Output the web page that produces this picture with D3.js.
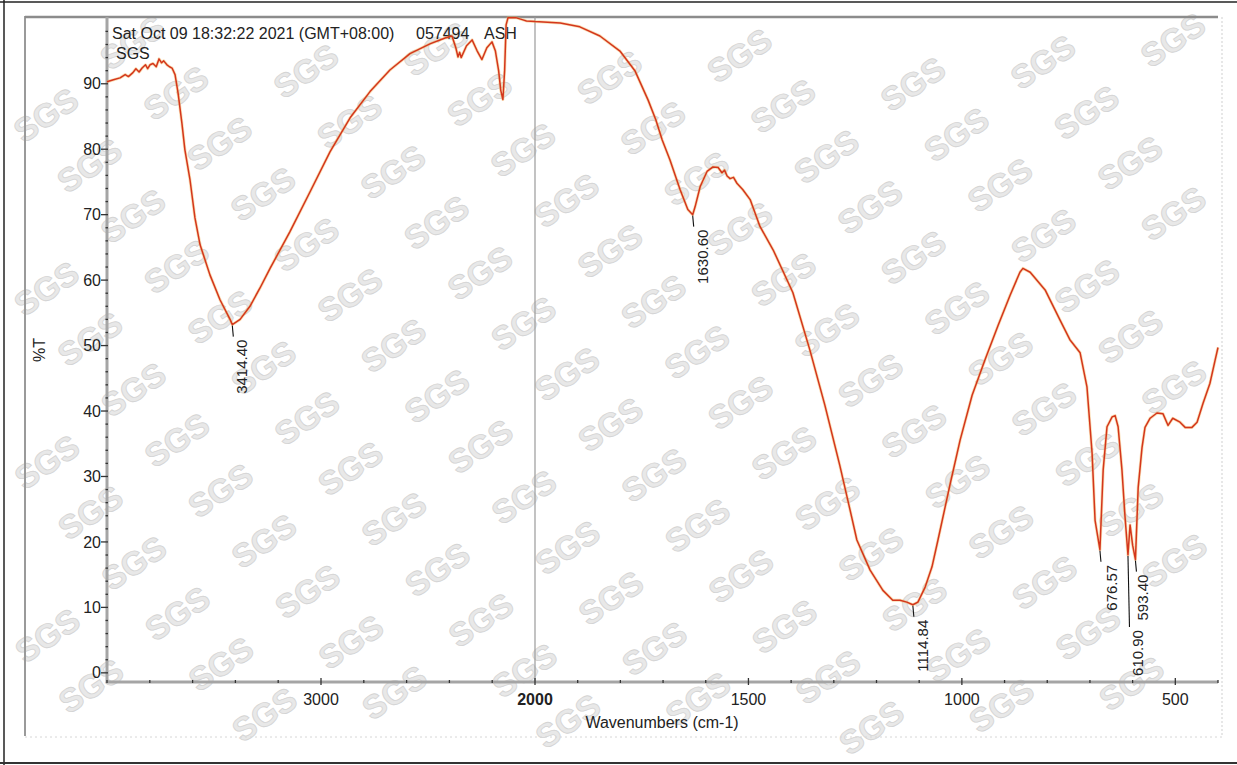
<!DOCTYPE html>
<html>
<head>
<meta charset="utf-8">
<script src="https://cdn.jsdelivr.net/npm/d3@7"></script>
<style>
  html, body { margin: 0; padding: 0; background: #ffffff; }
  svg { display: block; font-family: "Liberation Sans", Arial, sans-serif; }
</style>
</head>
<body>
<svg id="chart" width="1237" height="765"></svg>
<script>
// ---------------- data ----------------
const wavenumbers = [4000, 3970, 3939, 3915, 3900, 3879, 3865, 3850, 3836, 3820, 3810, 3799, 3785, 3770, 3757, 3745, 3735, 3720, 3708, 3696, 3682, 3668, 3650, 3636, 3612, 3589, 3565, 3519, 3472, 3425, 3414.4, 3378, 3332, 3285, 3238, 3145, 3051, 2958, 2864, 2771, 2678, 2584, 2491, 2420, 2388, 2370, 2360, 2352, 2345, 2320, 2294, 2270, 2248, 2225, 2201, 2185, 2170, 2160, 2150, 2142, 2135, 2126, 2090, 2060, 2040, 2000, 1941, 1895, 1848, 1801, 1766, 1735, 1717, 1702, 1684, 1660, 1642, 1630.6, 1625, 1613, 1597, 1583, 1571, 1562, 1556, 1550, 1543, 1535, 1527, 1513, 1496, 1473, 1442, 1396, 1356, 1321, 1286, 1262, 1246, 1215, 1185, 1162, 1145, 1129, 1114.84, 1103, 1086, 1070, 1056, 1028, 1004, 976, 946, 915, 887, 864, 857, 840, 805, 770, 747, 723, 707, 695, 688, 676.57, 669, 660, 648, 641, 634, 625, 618, 610.9, 606, 600, 593.4, 587, 578, 571, 559, 543, 529, 517, 506, 489, 477, 461, 449, 435, 419, 407, 400];
const transmittance = [90.3, 90.6, 90.9, 91.4, 91.1, 91.7, 92.3, 91.8, 92.4, 92.9, 92.3, 92.9, 93.1, 92.6, 93.8, 93.2, 93.5, 92.9, 92.6, 92.4, 91.4, 88.6, 84.0, 79.9, 75.3, 69.5, 65.4, 60.8, 57.0, 54.0, 53.2, 54.0, 56.0, 58.8, 61.8, 67.4, 73.5, 79.6, 84.8, 88.8, 92.1, 94.6, 96.1, 97.0, 97.3, 95.5, 94.1, 94.8, 94.0, 95.8, 96.7, 95.0, 93.7, 95.5, 96.4, 95.0, 92.0, 89.0, 87.6, 92.0, 99.0, 100.1, 100.1, 99.8, 99.6, 99.5, 99.3, 98.7, 97.3, 95.0, 92.0, 87.5, 84.5, 81.4, 78.4, 73.8, 70.8, 70.0, 71.2, 74.3, 76.6, 77.3, 77.2, 76.4, 76.8, 75.9, 75.5, 75.7, 74.8, 73.8, 72.3, 68.2, 64.6, 58.1, 49.3, 40.9, 31.7, 24.9, 20.3, 15.7, 12.6, 11.1, 11.1, 10.8, 10.4, 10.8, 13.1, 16.2, 20.3, 28.7, 35.6, 42.4, 47.8, 53.1, 57.7, 61.2, 61.8, 61.2, 58.5, 53.9, 50.9, 48.9, 43.7, 33.6, 23.3, 18.8, 31.0, 37.6, 39.1, 39.3, 37.6, 31.0, 24.0, 18.0, 22.6, 19.5, 17.3, 28.3, 34.4, 37.5, 38.9, 39.7, 39.6, 37.8, 38.9, 38.3, 37.5, 37.5, 38.3, 41.2, 44.2, 47.7, 49.7];

const peakWavenumbers = [3414.40, 1630.60, 1114.84, 676.57, 610.90, 593.40];
const peakLabels = ["3414.40", "1630.60", "1114.84", "676.57", "610.90", "593.40"];
const peakValues = [53.2, 70.0, 10.4, 18.8, 18.0, 17.3];

const xTickLabels = [3000, 2000, 1500, 1000, 500];
const yTickLabels = [0, 10, 20, 30, 40, 50, 60, 70, 80, 90];
const headerTexts = ["Sat Oct 09 18:32:22 2021 (GMT+08:00)", "057494", "ASH"];
const subHeader = "SGS";
const xTitle = "Wavenumbers (cm-1)";
const yTitle = "%T";
const watermarkText = "SGS";

// ---------------- layout ----------------
const svg = d3.select("#chart");
const plot = { left: 107, right: 1218, top: 17, bottom: 682 };
const x = d3.scaleLinear().domain([4000, 2000, 400]).range([plot.left, 535, plot.right]);
const y = d3.scaleLinear().domain([-1.4, 100.2]).range([plot.bottom, plot.top]);

// watermark lattice (only fully visible copies)
const wm = svg.append("g");
for (let i = -12; i <= 12; i++) {
  for (let j = -4; j <= 12; j++) {
    const px = 177 + i * 43.5 + j * 130;
    const py = 440 + i * 50.5 - j * 22;
    if (px < 40 || px > 1197 || py < 34 || py > 731) continue;
    wm.append("text")
      .attr("transform", `translate(${px},${py}) rotate(-34)`)
      .attr("text-anchor", "middle")
      .attr("dy", "0.35em")
      .attr("font-size", 33)
      .attr("font-weight", "bold")
      .attr("fill", "#e8e8e8")
      .attr("stroke", "#d4d4d4")
      .attr("stroke-width", 0.8)
      .text(watermarkText);
  }
}

// outer frame
svg.append("line").attr("x1", 4).attr("x2", 4).attr("y1", 0).attr("y2", 765).attr("stroke", "#222").attr("stroke-width", 1.5);
svg.append("line").attr("x1", 0).attr("x2", 1237).attr("y1", 2).attr("y2", 2).attr("stroke", "#222").attr("stroke-width", 1.5);
svg.append("line").attr("x1", 0).attr("x2", 1237).attr("y1", 763).attr("y2", 763).attr("stroke", "#333").attr("stroke-width", 2);
// inner gray frame
svg.append("line").attr("x1", 25).attr("x2", 25).attr("y1", 16).attr("y2", 736).attr("stroke", "#9a9a9a").attr("stroke-width", 2);
svg.append("line").attr("x1", 25).attr("x2", plot.right).attr("y1", plot.top).attr("y2", plot.top).attr("stroke", "#8c8c8c").attr("stroke-width", 2.5);
svg.append("line").attr("x1", 1222).attr("x2", 1222).attr("y1", plot.top).attr("y2", 737).attr("stroke", "#cfcfcf").attr("stroke-width", 1).attr("stroke-dasharray", "2,2");
svg.append("line").attr("x1", 25).attr("x2", 1222).attr("y1", 737).attr("y2", 737).attr("stroke", "#d6d6d6").attr("stroke-width", 1).attr("stroke-dasharray", "2,3");

// 2000 divider
svg.append("line").attr("x1", x(2000)).attr("x2", x(2000)).attr("y1", plot.top).attr("y2", plot.bottom).attr("stroke", "#9a9a9a").attr("stroke-width", 1.2);

// axes lines
svg.append("line").attr("x1", plot.left).attr("x2", plot.left).attr("y1", plot.top).attr("y2", plot.bottom + 1).attr("stroke", "#a5a5a5").attr("stroke-width", 3);
svg.append("line").attr("x1", plot.left - 1).attr("x2", plot.right).attr("y1", plot.bottom).attr("y2", plot.bottom).attr("stroke", "#a5a5a5").attr("stroke-width", 3);

// y ticks
const yMinor = d3.range(0, 100, 2);
svg.append("g").selectAll("line").data(yMinor).join("line")
  .attr("x1", d => d % 10 === 0 ? plot.left - 6 : plot.left - 1.5)
  .attr("x2", plot.left + 1)
  .attr("y1", d => y(d)).attr("y2", d => y(d))
  .attr("stroke", "#333").attr("stroke-width", 1.3);
svg.append("g").selectAll("text").data(yTickLabels).join("text")
  .attr("x", plot.left - 6).attr("y", d => y(d)).attr("dy", "0.35em")
  .attr("text-anchor", "end").attr("font-size", 16).attr("fill", "#222")
  .text(d => d);

// x ticks
const xMinor = d3.range(4000, 2000, -200).concat(d3.range(2000, 399, -100));
svg.append("g").selectAll("line").data(xMinor).join("line")
  .attr("x1", d => x(d)).attr("x2", d => x(d))
  .attr("y1", d => xTickLabels.includes(d) ? plot.bottom - 4 : plot.bottom - 2)
  .attr("y2", d => xTickLabels.includes(d) ? plot.bottom + 3 : plot.bottom + 1)
  .attr("stroke", "#333").attr("stroke-width", 1.3);
svg.append("g").selectAll("text").data(xTickLabels).join("text")
  .attr("x", d => x(d)).attr("y", 705)
  .attr("text-anchor", "middle").attr("font-size", 16).attr("fill", "#222")
  .attr("font-weight", d => d === 2000 ? "bold" : "normal")
  .text(d => d);

// titles
svg.append("text").attr("x", 662).attr("y", 728).attr("text-anchor", "middle")
  .attr("font-size", 16).attr("fill", "#222").text(xTitle);
svg.append("text").attr("transform", "translate(45,350) rotate(-90)").attr("text-anchor", "middle")
  .attr("font-size", 16).attr("fill", "#222").text(yTitle);

// header
const headerX = [112, 416, 484];
svg.append("g").selectAll("text").data(headerTexts).join("text")
  .attr("x", (d, i) => headerX[i]).attr("y", 39)
  .attr("font-size", 16).attr("fill", "#222").text(d => d);
svg.append("text").attr("x", 116).attr("y", 59).attr("font-size", 16).attr("fill", "#222").text(subHeader);

// spectrum
const pts = wavenumbers.map((w, i) => [w, transmittance[i]]);
const line = d3.line().x(d => x(d[0])).y(d => y(d[1]));
svg.append("path").datum(pts)
  .attr("d", line).attr("fill", "none")
  .attr("stroke", "#f2b35a").attr("stroke-width", 3).attr("stroke-opacity", 0.45)
  .attr("stroke-linejoin", "round");
svg.append("path").datum(pts)
  .attr("d", line).attr("fill", "none")
  .attr("stroke", "#d4361c").attr("stroke-width", 1.5)
  .attr("stroke-linejoin", "round");

// peak labels
const leaderLen = { "610.90": 72 };
const textOffset = { "676.57": 17, "593.40": 13 };
const pk = svg.append("g");
peakWavenumbers.forEach((w, i) => {
  const lab = peakLabels[i];
  const px = x(w), py = y(peakValues[i]);
  const len = leaderLen[lab] || 12;
  pk.append("line").attr("x1", px).attr("x2", px + (len > 20 ? 1.5 : 1)).attr("y1", py + 1).attr("y2", py + len)
    .attr("stroke", "#111").attr("stroke-width", 1.1);
  const off = textOffset[lab] || 15;
  pk.append("text")
    .attr("transform", `translate(${px + off},${py + len + 3}) rotate(-90)`)
    .attr("text-anchor", "end").attr("font-size", 15).attr("fill", "#222")
    .text(lab);
});
</script>
</body>
</html>
